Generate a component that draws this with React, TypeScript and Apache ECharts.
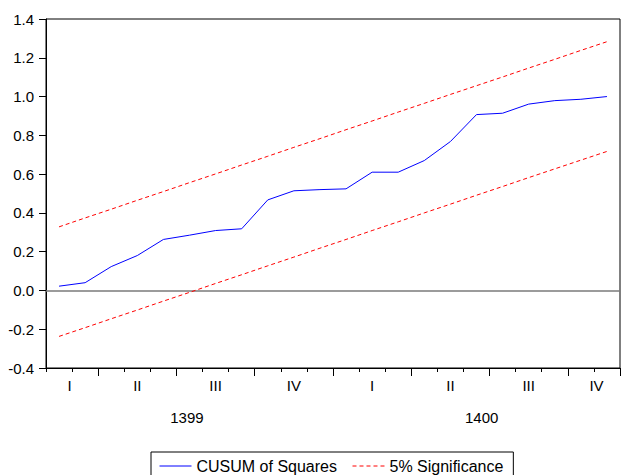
import React, { useEffect, useRef } from "react";
import * as echarts from "echarts";

// Monthly observations 1399M02 .. 1400M11
const months = [
  "1399M02", "1399M03", "1399M04", "1399M05", "1399M06", "1399M07",
  "1399M08", "1399M09", "1399M10", "1399M11", "1399M12",
  "1400M01", "1400M02", "1400M03", "1400M04", "1400M05", "1400M06",
  "1400M07", "1400M08", "1400M09", "1400M10", "1400M11",
];

const cusumSq = [
  0.022, 0.040, 0.123, 0.180, 0.263, 0.285, 0.309, 0.318, 0.467, 0.514, 0.520,
  0.524, 0.610, 0.610, 0.670, 0.768, 0.907, 0.914, 0.961, 0.979, 0.986, 1.0,
];

const upper5 = [
  0.328, 0.374, 0.419, 0.465, 0.510, 0.556, 0.601, 0.647, 0.692, 0.738, 0.783,
  0.829, 0.874, 0.920, 0.965, 1.011, 1.056, 1.101, 1.147, 1.192, 1.238, 1.283,
];

const lower5 = [
  -0.237, -0.192, -0.146, -0.101, -0.055, -0.010, 0.036, 0.081, 0.127, 0.172, 0.218,
  0.263, 0.309, 0.354, 0.400, 0.445, 0.491, 0.536, 0.582, 0.627, 0.672, 0.717,
];

const quarterLabels = ["I", "II", "III", "IV", "I", "II", "III", "IV"];
const yearLabels = ["1399", "1400"];

// label anchor positions along the month axis (in month units, layout only)
const quarterLabelAt = [0.9, 3.5, 6.5, 9.5, 12.5, 15.5, 18.5, 21.1];
const yearLabelAt = [5.4, 16.7];

const FONT = "'Liberation Sans', Arial, sans-serif";

export default function App() {
  const ref = useRef<HTMLDivElement>(null);

  useEffect(() => {
    if (!ref.current) return;
    const chart = echarts.init(ref.current, undefined, { renderer: "svg" });

    const qMap: Record<number, string> = {};
    quarterLabelAt.forEach((p, i) => (qMap[Math.round(p * 10)] = quarterLabels[i]));
    const yMap: Record<number, string> = {};
    yearLabelAt.forEach((p, i) => (yMap[Math.round(p * 10)] = yearLabels[i]));

    const labelAxis = (map: Record<number, string>, margin: number) => ({
      type: "value",
      position: "bottom",
      min: 0,
      max: months.length,
      interval: 0.1,
      axisLine: { show: false, onZero: false },
      axisTick: { show: false },
      splitLine: { show: false },
      axisLabel: {
        show: true,
        margin,
        fontSize: 15,
        fontFamily: FONT,
        color: "#000",
        showMinLabel: true,
        showMaxLabel: true,
        formatter: (v: number) => map[Math.round(v * 10)] ?? "",
      },
    });

    chart.setOption({
      animation: false,
      backgroundColor: "#fff",
      grid: {
        left: 46,
        right: -1,
        top: 19,
        bottom: 107,
        show: true,
        borderColor: "#000",
        borderWidth: 1,
        containLabel: false,
      },
      xAxis: [
        {
          type: "category",
          data: months,
          position: "bottom",
          boundaryGap: true,
          axisLine: { show: true, onZero: false, lineStyle: { color: "#000", width: 1 } },
          axisTick: { show: true, interval: 0, length: 4, lineStyle: { color: "#000" } },
          axisLabel: { show: false },
          splitLine: { show: false },
        },
        {
          type: "category",
          data: months,
          position: "bottom",
          boundaryGap: true,
          axisLine: { show: false, onZero: false },
          axisTick: {
            show: true,
            length: 8,
            interval: (i: number) => i % 3 === 2,
            lineStyle: { color: "#000" },
          },
          axisLabel: { show: false },
          splitLine: { show: false },
        },
        labelAxis(qMap, 10),
        labelAxis(yMap, 42),
      ],
      yAxis: {
        type: "value",
        min: -0.4,
        max: 1.4,
        interval: 0.2,
        axisLine: { show: true, lineStyle: { color: "#000", width: 1 } },
        axisTick: { show: true, length: 7, lineStyle: { color: "#000" } },
        splitLine: { show: false },
        axisLabel: {
          margin: 12,
          fontSize: 15,
          fontFamily: FONT,
          color: "#000",
          formatter: (v: number) => v.toFixed(1),
        },
      },
      legend: {
        left: 151,
        top: 452,
        orient: "horizontal",
        padding: [6, 10, 12, 8],
        borderColor: "#000",
        borderWidth: 1,
        itemWidth: 32,
        itemHeight: 14,
        itemGap: 15,
        itemStyle: { color: "rgba(0,0,0,0)", borderWidth: 0, opacity: 0 },
        lineStyle: { width: 1 },
        textStyle: { fontSize: 16, fontFamily: FONT, color: "#000" },
        data: ["CUSUM of Squares", "5% Significance"],
      },
      series: [
        {
          name: "CUSUM of Squares",
          type: "line",
          xAxisIndex: 0,
          data: cusumSq,
          symbol: "none",
          showSymbol: false,
          lineStyle: { color: "#0000ff", width: 1 },
          itemStyle: { color: "#0000ff" },
          z: 3,
          markLine: {
            silent: true,
            symbol: "none",
            label: { show: false },
            lineStyle: { color: "#7a7a7a", type: "solid", width: 1.5 },
            data: [{ yAxis: 0 }],
            z: 1,
          },
        },
        {
          name: "5% Significance",
          type: "line",
          xAxisIndex: 0,
          data: upper5,
          symbol: "none",
          showSymbol: false,
          lineStyle: { color: "#ff0000", width: 1, type: [4, 3] },
          itemStyle: { color: "#ff0000" },
          z: 2,
        },
        {
          name: "5% Significance",
          type: "line",
          xAxisIndex: 0,
          data: lower5,
          symbol: "none",
          showSymbol: false,
          lineStyle: { color: "#ff0000", width: 1, type: [4, 3] },
          itemStyle: { color: "#ff0000" },
          z: 2,
        },
      ],
    });

    return () => chart.dispose();
  }, []);

  return (
    <div
      ref={ref}
      style={{ position: "fixed", left: 0, top: 0, width: 623, height: 475, background: "#fff" }}
    />
  );
}
